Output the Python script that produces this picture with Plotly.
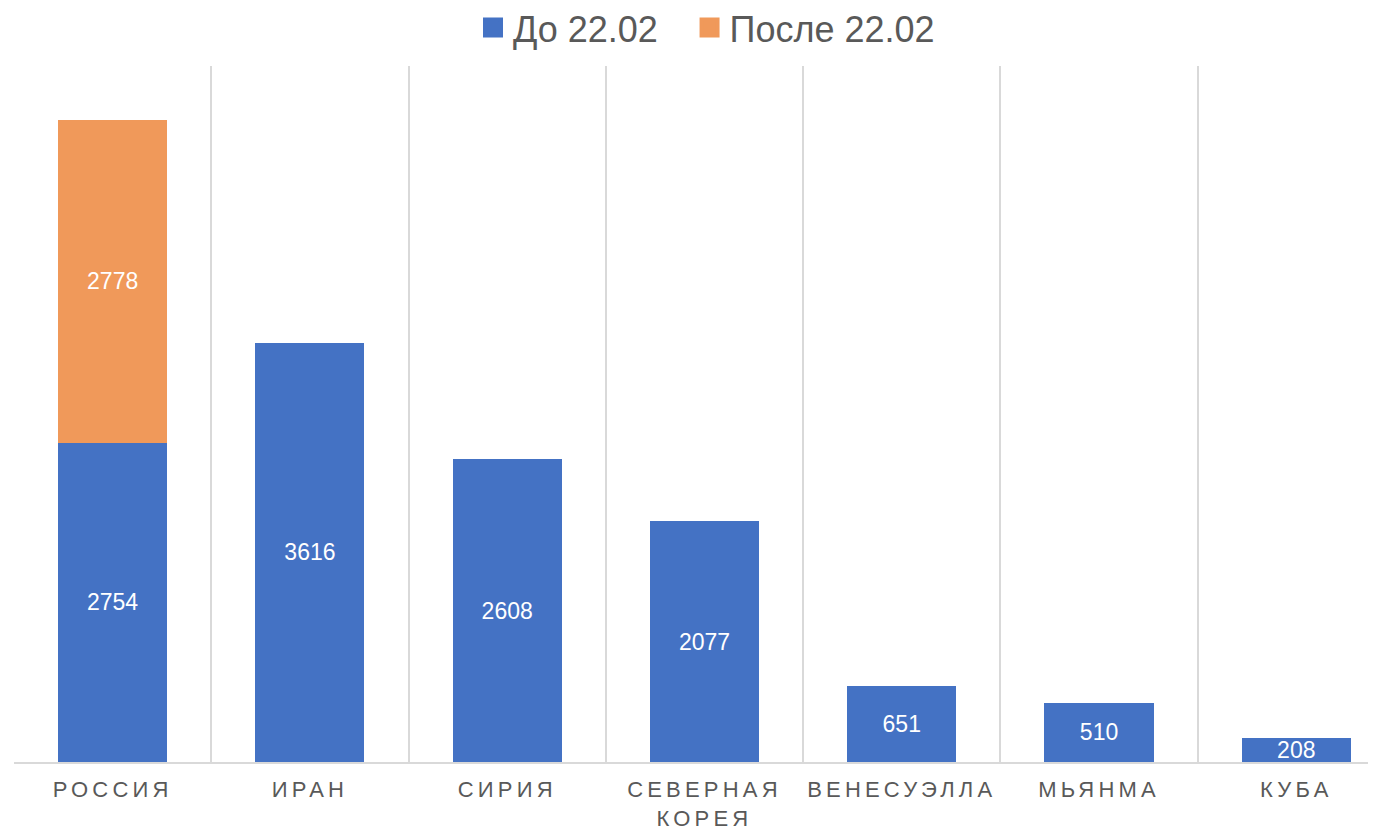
import plotly.graph_objects as go

categories = ["РОССИЯ", "ИРАН", "СИРИЯ", "СЕВЕРНАЯ<br>КОРЕЯ", "ВЕНЕСУЭЛЛА", "МЬЯНМА", "КУБА"]
before = [2754, 3616, 2608, 2077, 651, 510, 208]
after = [2778, None, None, None, None, None, None]
series_names = ["До 22.02", "После 22.02"]
colors = ["#4472C4", "#F0995A"]

FONT = "Arial, 'Liberation Sans', sans-serif"

def spaced(label):
    return "<br>".join('<span style="letter-spacing:4.2px">%s</span>' % p for p in label.split("<br>"))

fig = go.Figure()
fig.add_trace(go.Bar(
    x=categories, y=before, name=series_names[0], marker_color=colors[0],
    text=[str(v) for v in before], textposition="inside", insidetextanchor="middle",
    constraintext="none", textfont=dict(color="white", size=23, family=FONT),
    marker_line_width=0, showlegend=False,
))
fig.add_trace(go.Bar(
    x=categories, y=after, name=series_names[1], marker_color=colors[1],
    text=[str(v) if v is not None else "" for v in after], textposition="inside",
    insidetextanchor="middle", constraintext="none",
    textfont=dict(color="white", size=23, family=FONT), marker_line_width=0,
    showlegend=False,
))
# legend entries with larger square swatches, one legend each
for name, col, lg in zip(series_names, colors, ["legend", "legend2"]):
    fig.add_trace(go.Scatter(
        x=[None], y=[None], mode="markers", name=name, legend=lg,
        marker=dict(symbol="square", size=16, color=col, line=dict(color=col, width=4)),
        showlegend=True,
    ))

leg_common = dict(orientation="h", xanchor="left", y=1.055, yanchor="middle",
                  font=dict(size=36, color="#595959", family=FONT),
                  itemwidth=30, itemsizing="trace", bgcolor="rgba(0,0,0,0)")

fig.update_layout(
    barmode="stack",
    bargap=0.447,
    width=1368, height=821,
    margin=dict(l=6, r=0, t=58, b=67, autoexpand=False),
    paper_bgcolor="white", plot_bgcolor="white",
    font=dict(family=FONT, color="#595959"),
    showlegend=True,
    legend=dict(x=0.337, **leg_common),
    legend2=dict(x=0.496, **leg_common),
)
fig.update_xaxes(
    type="category", automargin=False,
    categoryorder="array", categoryarray=categories,
    tickmode="array", tickvals=categories, ticktext=[spaced(c) for c in categories],
    tickangle=0, ticklabelstandoff=7,
    tickson="boundaries", showgrid=True, gridcolor="#D9D9D9", gridwidth=2,
    showline=True, linecolor="#D9D9D9", linewidth=2,
    ticks="", tickfont=dict(size=22, color="#595959", family=FONT),
    range=[-0.5, 6.404], fixedrange=True,
)
fig.update_yaxes(range=[0, 6000], showgrid=False, zeroline=False, showticklabels=False,
                 showline=False, ticks="", automargin=False)

fig.write_html("out.html")
